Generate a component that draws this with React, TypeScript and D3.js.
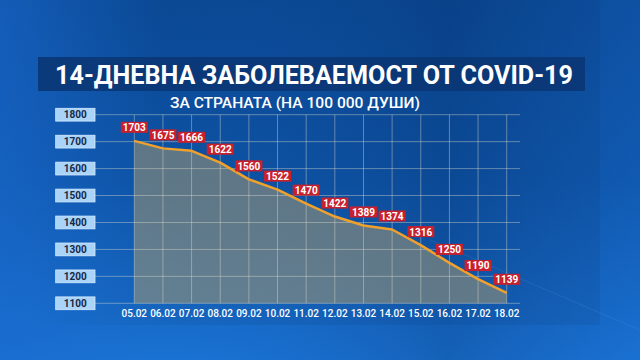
import React from "react";
import * as d3 from "d3";

const dates = ["05.02","06.02","07.02","08.02","09.02","10.02","11.02","12.02","13.02","14.02","15.02","16.02","17.02","18.02"];
const values = [1703,1675,1666,1622,1560,1522,1470,1422,1389,1374,1316,1250,1190,1139];
const yTicks = [1100,1200,1300,1400,1500,1600,1700,1800];
const title = "14-ДНЕВНА ЗАБОЛЕВАЕМОСТ ОТ COVID-19";
const subtitle = "ЗА СТРАНАТА (НА 100 000 ДУШИ)";

export default function App() {
  const W = 640, H = 360;
  const x = d3.scalePoint<string>().domain(dates).range([134.3, 506.7]);
  const y = d3.scaleLinear().domain([1100, 1800]).range([303.3, 114.7]);
  const pts = dates.map((d, i) => ({ d, v: values[i] }));
  const line = d3.line<any>().x(p => x(p.d)!).y(p => y(p.v));
  const area = d3.area<any>().x(p => x(p.d)!).y0(y(1100)).y1(p => y(p.v));
  const font = "Roboto, 'Open Sans', sans-serif";
  return (
    <svg width={W} height={H} style={{ position: "absolute", left: 0, top: 0 }} fontFamily={font}>
      <defs>
        <linearGradient id="bg" x1="0" y1="0" x2="0" y2="1">
          <stop offset="0" stopColor="#0b4b98" />
          <stop offset="0.5" stopColor="#0e56aa" />
          <stop offset="1" stopColor="#1a72d2" />
        </linearGradient>
        <linearGradient id="bgH" x1="0" y1="0" x2="1" y2="0">
          <stop offset="0" stopColor="#1a6ad0" stopOpacity="0.55" />
          <stop offset="0.25" stopColor="#1a6ad0" stopOpacity="0" />
          <stop offset="0.7" stopColor="#062e6a" stopOpacity="0.25" />
          <stop offset="1" stopColor="#1a6ad0" stopOpacity="0.2" />
        </linearGradient>
        <linearGradient id="panel" x1="0" y1="0" x2="1" y2="0">
          <stop offset="0" stopColor="#06306a" stopOpacity="0" />
          <stop offset="0.3" stopColor="#06306a" stopOpacity="0.12" />
          <stop offset="1" stopColor="#06306a" stopOpacity="0.12" />
        </linearGradient>
      </defs>
      <rect width={W} height={H} fill="url(#bg)" />
      <rect width={W} height={H} fill="url(#bgH)" />
      <rect x={30} y={0} width={570} height={325} fill="url(#panel)" />
      <line x1={430} y1={240} x2={640} y2={330} stroke="#6ab0ff" strokeOpacity={0.15} strokeWidth={1} />

      {/* title */}
      <rect x={38} y={57} width={547} height={34} fill="#0a3572" opacity={0.85} />
      <text x={314} y={83.5} fill="#fff" fontSize={25} fontWeight={700} textAnchor="middle"
        textLength={518} lengthAdjust="spacingAndGlyphs">{title}</text>
      <text x={295} y={108} fill="#fff" fontSize={14} fontWeight={500} textAnchor="middle"
        textLength={250} lengthAdjust="spacingAndGlyphs">{subtitle}</text>

      {/* area */}
      <path d={area(pts)!} fill="rgb(175,155,105)" fillOpacity={0.5} />

      {/* grid */}
      {yTicks.map(t => (
        <line key={"h" + t} x1={95} x2={520} y1={y(t)} y2={y(t)} stroke="#e8e4d0" strokeOpacity={0.4} strokeWidth={1} />
      ))}
      {dates.map(d => (
        <line key={"v" + d} x1={x(d)} x2={x(d)} y1={y(1800)} y2={y(1100)} stroke="#e8e4d0" strokeOpacity={0.4} strokeWidth={1} />
      ))}

      {/* y labels */}
      {yTicks.map(t => (
        <g key={"yl" + t}>
          <rect x={55.7} y={y(t) - 6.4} width={39.3} height={12.8} fill="#a9d3f7" stroke="#d6ecff" strokeWidth={0.8} />
          <text x={75.3} y={y(t) + 3.6} fill="#13284a" fontSize={10} fontWeight={700} textAnchor="middle">{t}</text>
        </g>
      ))}

      {/* line */}
      <path d={line(pts)!} fill="none" stroke="#f0a02c" strokeWidth={2.5} strokeLinejoin="round" />

      {/* value labels */}
      {pts.map(p => (
        <g key={"vl" + p.d}>
          <rect x={x(p.d)! - 13.5} y={y(p.v) - 19} width={27} height={11} fill="#c8202c" />
          <text x={x(p.d)!} y={y(p.v) - 9.6} fill="#fff" fontSize={10.5} fontWeight={700} textAnchor="middle"
            textLength={23} lengthAdjust="spacingAndGlyphs">{p.v}</text>
        </g>
      ))}

      {/* x labels */}
      {dates.map(d => (
        <text key={"xl" + d} x={x(d)} y={317} fill="#fff" fontSize={10} fontWeight={500} textAnchor="middle">{d}</text>
      ))}
    </svg>
  );
}
